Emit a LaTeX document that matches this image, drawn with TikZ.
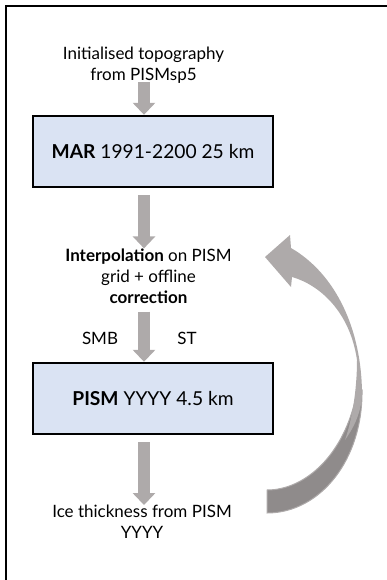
\documentclass[tikz,border=0pt]{standalone}
\usepackage{fontspec}
\setmainfont{Lato}
\usetikzlibrary{arrows.meta}
\definecolor{boxblue}{HTML}{DAE3F3}
\definecolor{arrowgray}{HTML}{AEAAAA}
\definecolor{backgray}{HTML}{8F8B8B}
\tikzset{
  flowbox/.style={draw=black,line width=2.4pt,fill=boxblue,minimum width=240pt,minimum height=71pt,inner sep=0pt,font=\fontsize{19.2}{22}\selectfont},
  note/.style={align=center,inner sep=0pt,font=\fontsize{17}{21}\selectfont},
  grayarrow/.style={arrowgray,line width=12pt,-{Triangle[length=12pt,width=22pt]}}
}
\begin{document}
\begin{tikzpicture}[x=1pt,y=-1pt]
	\useasboundingbox (0,0) rectangle (387,580);
	\draw[line width=2.3pt] (6,600) -- (6,6) -- (400,6);
	\node[note] (topo) at (143.5,65) {Initialised topography\\from PISMsp5};
	\node[flowbox] (mar) at (153,151.5) {\textbf{MAR} 1991-2200 25 km};
	\node[note] (interp) at (148.5,276) {\textbf{Interpolation} on PISM\\grid + offline\\\textbf{correction}};
	\node[note] (smb) at (100,338) {SMB};
	\node[note] (st) at (187,338) {ST};
	\node[flowbox] (pism) at (153,398.5) {\textbf{PISM} YYYY 4.5 km};
	\node[note] (ice) at (142,522) {Ice thickness from PISM\\YYYY};
	\draw[grayarrow,shorten <=-1pt] (144,0 |- topo.south) -- (144,0 |- mar.north);
	\draw[grayarrow,shorten <=7pt] (144,0 |- mar.south) -- (144,0 |- interp.north);
	\draw[grayarrow,shorten <=8pt] (144,0 |- interp.south) -- (144,0 |- pism.north);
	\draw[grayarrow,shorten <=7pt] (144,0 |- pism.south) -- (144,0 |- ice.north);
	\filldraw[fill=backgray,draw=arrowgray,line width=1pt] (362,390) .. controls (363,460) and (320,513) .. (267,513) -- (267,490) .. controls (305,490) and (345,455) .. (357,392) -- cycle;
	\fill[arrowgray] (345,440) .. controls (352,420) and (357,390) .. (357,360) .. controls (350,312) and (320,285) .. (292,277) -- (291,287) -- (265,257) -- (290,235) -- (291,248) .. controls (336,274) and (362,330) .. (362,395) .. controls (361,415) and (352,430) .. (345,440) -- cycle;
\end{tikzpicture}
\end{document}
